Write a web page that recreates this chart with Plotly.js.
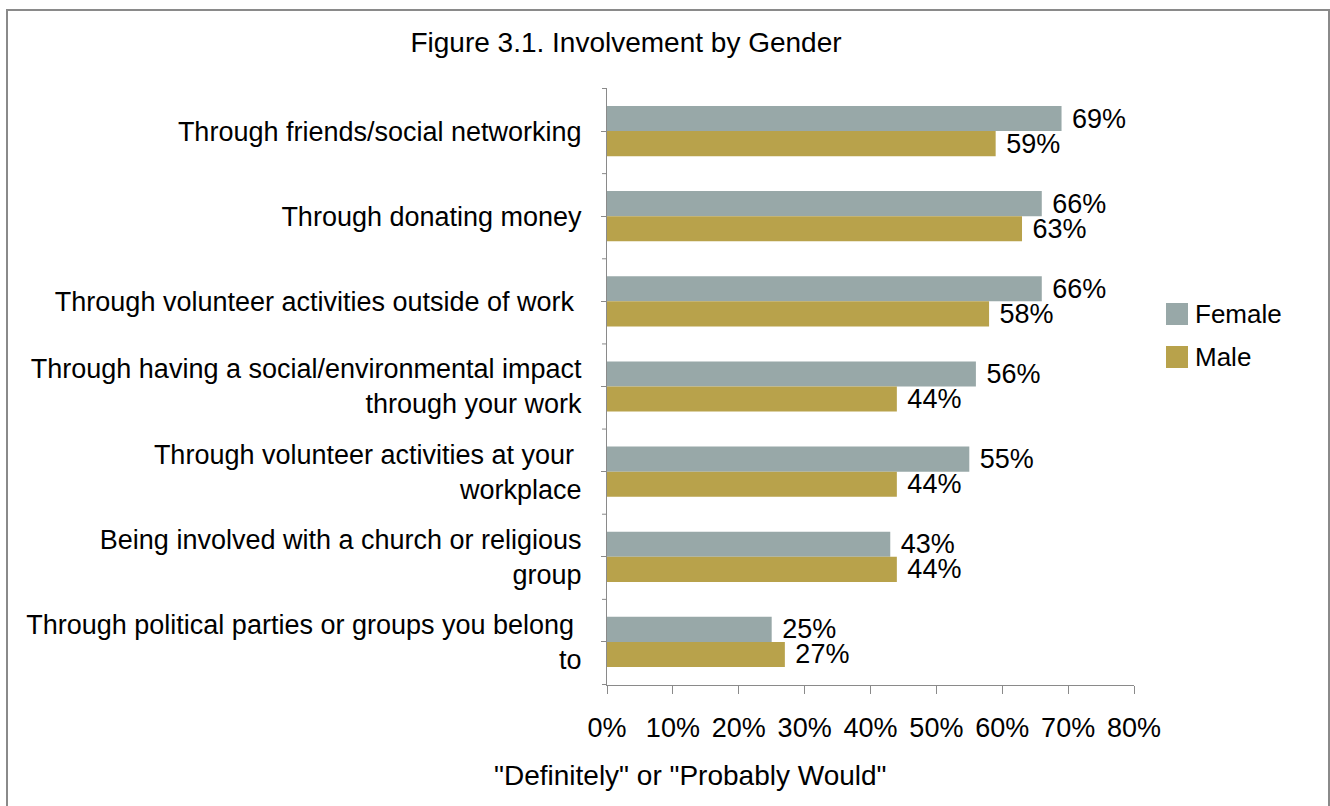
<!DOCTYPE html>
<html>
<head>
<meta charset="utf-8">
<script src="https://cdn.plot.ly/plotly-3.0.1.min.js"></script>
<style>
  html, body { margin:0; padding:0; background:#fff; }
  #chart { width:1330px; height:806px; position:absolute; left:0; top:0; }
  #frame { position:absolute; left:6px; top:9px; width:1320px; height:820px; border:2px solid #8a8a8a; border-bottom:none; pointer-events:none; }
</style>
</head>
<body>
<div id="chart"></div>
<div id="frame"></div>
<script>
const categories = [
  "Through friends/social networking",
  "Through donating money",
  "Through volunteer activities outside of work\u00a0",
  "Through having a social/environmental impact<br>through your work",
  "Through volunteer activities at your\u00a0<br>workplace",
  "Being involved with a church or religious<br>group",
  "Through political parties or groups you belong\u00a0<br>to"
];
const female = [69, 66, 66, 56, 55, 43, 25];
const male   = [59, 63, 58, 44, 44, 44, 27];
const seriesNames = ["Female", "Male"];
const colors = ["#98A8A8", "#B8A24B"];

const W = 1330, H = 806;
const M = {l: 607, r: 196, t: 88, b: 121};
const PW = W - M.l - M.r, PH = H - M.t - M.b;
const px = x => (x - M.l) / PW;
const py = y => (H - M.b - y) / PH;

const font = "Liberation Sans, Arial, Helvetica, sans-serif";

const traces = [female, male].map((vals, i) => ({
  type: "bar",
  orientation: "h",
  name: seriesNames[i],
  y: categories,
  x: vals,
  marker: {color: colors[i]},
  text: vals.map(v => "\u00a0" + v + "%"),
  textposition: "outside",
  constraintext: "none",
  textfont: {family: font, size: 27, color: "#000"},
  cliponaxis: false,
  showlegend: false,
  hoverinfo: "x+y"
}));

const shapes = [];
// boundary ticks on the category axis
for (let i = 0; i <= categories.length; i++) {
  shapes.push({type: "line", xref: "paper", yref: "y",
    x0: px(M.l - 5), x1: 0, y0: i - 0.5, y1: i - 0.5,
    line: {color: "#8a8a8a", width: 1}});
}
// custom legend swatches
const legendY = [314, 357];
const annotations = [];
seriesNames.forEach((n, i) => {
  shapes.push({type: "rect", xref: "paper", yref: "paper",
    x0: px(1166), x1: px(1188), y0: py(legendY[i] + 11), y1: py(legendY[i] - 11),
    fillcolor: colors[i], line: {width: 0}});
  annotations.push({xref: "paper", yref: "paper", x: px(1193), y: py(legendY[i]),
    xanchor: "left", yanchor: "middle", showarrow: false, text: n,
    font: {family: font, size: 26, color: "#000"}});
});
annotations.push({xref: "paper", yref: "paper", x: px(690), y: py(775),
  xanchor: "center", yanchor: "middle", showarrow: false,
  text: "\"Definitely\" or \"Probably Would\"",
  font: {family: font, size: 28, color: "#000"}});

const layout = {
  width: W, height: H,
  margin: M,
  paper_bgcolor: "#fff", plot_bgcolor: "#fff",
  font: {family: font, size: 27, color: "#000"},
  title: {text: "Figure 3.1. Involvement by Gender", xref: "container", yref: "container",
    x: 626 / W, xanchor: "center", y: 1 - 42 / H, yanchor: "middle",
    font: {family: font, size: 28, color: "#000"}},
  barmode: "group",
  bargap: 0.41,
  bargroupgap: 0,
  showlegend: false,
  xaxis: {range: [0, 80], dtick: 10, tick0: 0, ticksuffix: "%",
    showgrid: false, zeroline: false, showline: true, linecolor: "#8a8a8a", linewidth: 1,
    ticks: "outside", ticklen: 8, tickcolor: "#8a8a8a",
    ticklabelstandoff: 11,
    tickfont: {family: font, size: 27, color: "#000"}, fixedrange: true},
  yaxis: {type: "category", autorange: "reversed",
    showgrid: false, zeroline: false, showline: true, linecolor: "#8a8a8a", linewidth: 1,
    ticks: "outside", ticklen: 5, tickcolor: "#8a8a8a",
    ticklabelstandoff: 14,
    tickfont: {family: font, size: 27, color: "#000"}, fixedrange: true},
  shapes: shapes,
  annotations: annotations
};

Plotly.newPlot("chart", traces, layout, {displayModeBar: false, staticPlot: true});
</script>
</body>
</html>
